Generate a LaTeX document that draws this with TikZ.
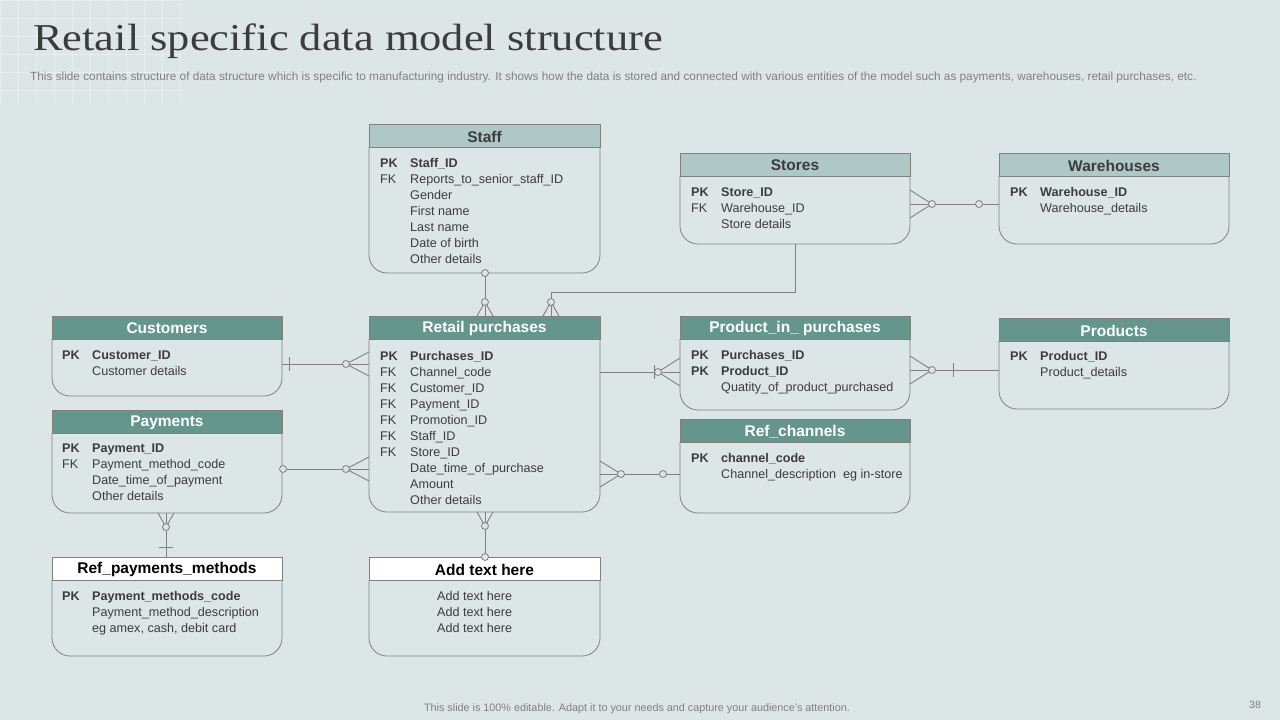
\documentclass[tikz,border=0pt]{standalone}
\usepackage{fontspec}
\setmainfont{Liberation Sans}
\newfontfamily\titlefont{Liberation Serif}
\definecolor{bg}{HTML}{DCE6E6}
\definecolor{dark}{HTML}{64968C}
\definecolor{light}{HTML}{AEC8C6}
\definecolor{ln}{HTML}{808080}
\definecolor{txt}{HTML}{3C3C3C}
\begin{document}
\begin{tikzpicture}[x=1pt,y=-1pt,
  edge/.style={draw=ln,line width=0.9pt},
  hd/.style={font=\bfseries\fontsize{15.5}{16}\selectfont},
  fld/.style={anchor=base west,inner sep=0,text=txt,font=\fontsize{12.6}{13}\selectfont},
  key/.style={fld,font=\bfseries\fontsize{12.6}{13}\selectfont},
  oc/.style={circle,draw=ln,fill=bg,line width=0.8pt,inner sep=0,minimum size=7pt}]
\fill[bg] (0,0) rectangle (1280,720);
\useasboundingbox (0,0) rectangle (1280,720);
% grid decoration
\foreach \i in {0,18,...,180} {\draw[white,opacity=0.35,line width=0.6pt] (\i,0) -- (\i,105);}
\foreach \j in {0,18,...,105} {\draw[white,opacity=0.35,line width=0.6pt] (0,\j) -- (180,\j);}
\node[anchor=base west,inner sep=0,text=txt,font=\titlefont\fontsize{38}{40}\selectfont] (title) at (33,50) {\scalebox{1.17}[1]{Retail specific data model structure}};
\node[anchor=base west,inner sep=0,text=gray,font=\fontsize{11.8}{12}\selectfont] (sub) at (30,80) {This slide contains structure of data structure which is specific to manufacturing industry. It shows how the data is stored and connected with various entities of the model such as payments, warehouses, retail purchases, etc.};
\node[inner sep=0,text=gray,font=\fontsize{10.8}{11}\selectfont] (foot) at (637,709) {This slide is 100\% editable.  Adapt it to your needs and capture your audience's attention.};
\node[inner sep=0,text=gray,font=\fontsize{10.5}{11}\selectfont] (pg) at (1255,705) {38};
\newcommand\ebox[9]{%
  \fill[#7] (#2,#3) rectangle (#4,#5);
  \draw[ln,line width=0.8pt] (#2,#3) rectangle (#4,#5);
  \draw[ln,line width=0.8pt] (#2,#5) [rounded corners=18pt]-- (#2,#6) -- (#4,#6) [sharp corners]-- (#4,#5);
  \node[hd,text=#8,inner sep=0] (#1) at ({(#2+#4)/2},{(#3+#5)/2+1}) {#9};
  \coordinate (#1-b) at ({(#2+#4)/2},#6);}
\ebox{staff}{369}{124}{600}{147}{273}{light}{txt}{Staff}
\ebox{stores}{680}{153}{910}{176}{244}{light}{txt}{Stores}
\ebox{wh}{999}{153}{1229}{176}{244}{light}{txt}{Warehouses}
\ebox{cust}{52}{316}{282}{339}{396}{dark}{white}{Customers}
\ebox{rp}{369}{316}{600}{339}{512}{dark}{white}{Retail purchases}
\ebox{pip}{680}{316}{910}{339}{410}{dark}{white}{Product\_in\_ purchases}
\ebox{prod}{999}{318}{1229}{341}{409}{dark}{white}{Products}
\ebox{pay}{52}{410}{282}{433}{513}{dark}{white}{Payments}
\ebox{rc}{680}{419}{910}{442}{513}{dark}{white}{Ref\_channels}
\ebox{rpm}{52}{557}{282}{580}{656}{white}{black}{Ref\_payments\_methods}
\ebox{add}{369}{557}{600}{580}{656}{white}{black}{Add text here}
\newcommand\K[4]{\node[key] at (#1,#2) {PK}; \node[key] at ({#1+30},#2) {#4};}
\newcommand\F[4]{\node[fld] at (#1,#2) {#3}; \node[fld] at ({#1+30},#2) {#4};}
\K{380}{167}{}{Staff\_ID}
\F{380}{183}{FK}{Reports\_to\_senior\_staff\_ID}
\F{380}{199}{}{Gender}
\F{380}{215}{}{First name}
\F{380}{231}{}{Last name}
\F{380}{247}{}{Date of birth}
\F{380}{263}{}{Other details}
\K{691}{196}{}{Store\_ID}
\F{691}{212}{FK}{Warehouse\_ID}
\F{691}{228}{}{Store details}
\K{1010}{196}{}{Warehouse\_ID}
\F{1010}{212}{}{Warehouse\_details}
\K{62}{359}{}{Customer\_ID}
\F{62}{375}{}{Customer details}
\K{380}{360}{}{Purchases\_ID}
\F{380}{376}{FK}{Channel\_code}
\F{380}{392}{FK}{Customer\_ID}
\F{380}{408}{FK}{Payment\_ID}
\F{380}{424}{FK}{Promotion\_ID}
\F{380}{440}{FK}{Staff\_ID}
\F{380}{456}{FK}{Store\_ID}
\F{380}{472}{}{Date\_time\_of\_purchase}
\F{380}{488}{}{Amount}
\F{380}{504}{}{Other details}
\K{691}{359}{}{Purchases\_ID}
\K{691}{375}{}{Product\_ID}
\F{691}{391}{}{Quatity\_of\_product\_purchased}
\K{1010}{360}{}{Product\_ID}
\F{1010}{376}{}{Product\_details}
\K{62}{452}{}{Payment\_ID}
\F{62}{468}{FK}{Payment\_method\_code}
\F{62}{484}{}{Date\_time\_of\_payment}
\F{62}{500}{}{Other details}
\K{691}{462}{}{channel\_code}
\F{691}{478}{}{Channel\_description\ \ eg in-store}
\K{62}{600}{}{Payment\_methods\_code}
\F{62}{616}{}{Payment\_method\_description}
\F{62}{632}{}{eg amex, cash, debit card}
\node[fld] at (437,600) {Add text here};
\node[fld] at (437,616) {Add text here};
\node[fld] at (437,632) {Add text here};
% connectors
\coordinate (s1) at (485,273); \coordinate (r1) at (485,316);
\draw[edge] (s1) -- (r1);
\draw[edge] (485,302) -- (477,316) (485,302) -- (493,316);
\node[oc] at (s1) {}; \node[oc] at (485,302) {};
\coordinate (st1) at (795,244); \coordinate (r2) at (551,316);
\draw[edge] (st1) |- (551,292) -- (r2);
\draw[edge] (551,302) -- (543,316) (551,302) -- (559,316);
\node[oc] at (551,302) {};
\coordinate (st2) at (910,204); \coordinate (w1) at (999,204);
\draw[edge] (st2) -- (w1);
\draw[edge] (932,204) -- (910,190) (932,204) -- (910,218);
\node[oc] at (932,204) {}; \node[oc] at (979,204) {};
\coordinate (c1) at (282,364); \coordinate (r3) at (369,364);
\draw[edge] (c1) -- (r3);
\draw[edge] (289,357) -- (289,371);
\draw[edge] (346,364) -- (369,352) (346,364) -- (369,376);
\node[oc] at (346,364) {};
\coordinate (r4) at (600,372); \coordinate (p1) at (680,372);
\draw[edge] (r4) -- (p1);
\draw[edge] (654,365) -- (654,379);
\draw[edge] (658,372) -- (680,358) (658,372) -- (680,386);
\node[oc] at (658,372) {};
\coordinate (p2) at (910,370); \coordinate (pr1) at (999,370);
\draw[edge] (p2) -- (pr1);
\draw[edge] (932,370) -- (910,356) (932,370) -- (910,384);
\draw[edge] (953,363) -- (953,377);
\node[oc] at (932,370) {};
\coordinate (pa1) at (283,469); \coordinate (r5) at (369,469);
\draw[edge] (pa1) -- (r5);
\draw[edge] (346,469) -- (369,457) (346,469) -- (369,481);
\node[oc] at (pa1) {}; \node[oc] at (346,469) {};
\coordinate (r6) at (600,474); \coordinate (rc1) at (680,474);
\draw[edge] (r6) -- (rc1);
\draw[edge] (621,474) -- (600,461) (621,474) -- (600,487);
\node[oc] at (621,474) {}; \node[oc] at (663,474) {};
\coordinate (pa2) at (166,513); \coordinate (rm1) at (166,557);
\draw[edge] (pa2) -- (rm1);
\draw[edge] (166,527) -- (158,513) (166,527) -- (174,513);
\draw[edge] (159,547) -- (173,547);
\node[oc] at (166,527) {};
\coordinate (r7) at (485,512); \coordinate (ad1) at (485,557);
\draw[edge] (r7) -- (ad1);
\draw[edge] (485,526) -- (477,512) (485,526) -- (493,512);
\node[oc] at (485,526) {}; \node[oc] at (ad1) {};
\end{tikzpicture}
\end{document}
